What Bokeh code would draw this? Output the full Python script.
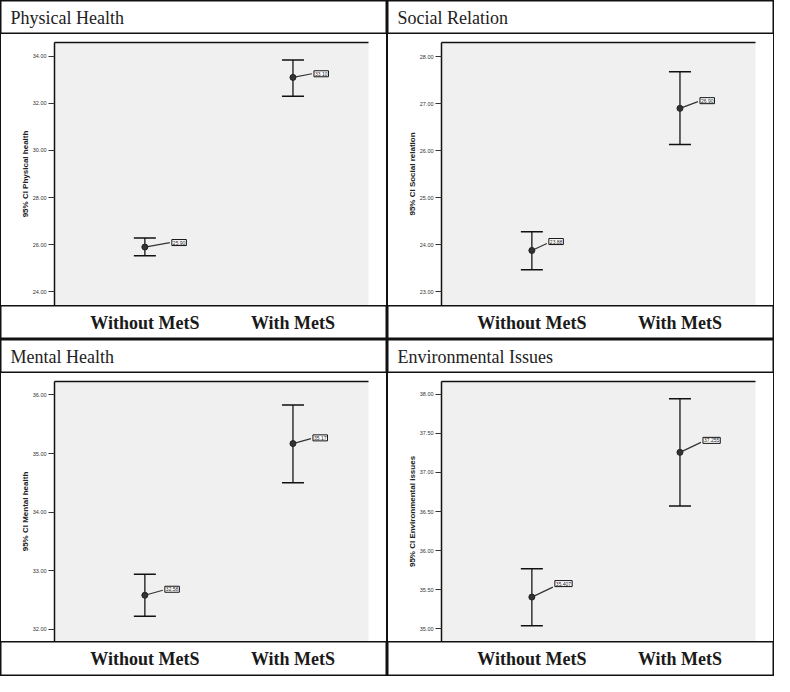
from bokeh.plotting import figure
from bokeh.models import (Range1d, LinearAxis, FixedTicker, NumeralTickFormatter,
                          Whisker, TeeHead, ColumnDataSource, Label, Div)
from bokeh.layouts import row, column
from bokeh.embed import file_html
from bokeh.resources import INLINE
from bokeh.core.properties import value

# ---------------- data ----------------
groups = ["Without MetS", "With MetS"]
group_x = [0, 1]

titles = ["Physical Health", "Social Relation", "Mental Health", "Environmental Issues"]
y_labels = ["95% CI Physical health", "95% CI Social relation",
            "95% CI Mental health", "95% CI Environmental issues"]

physical_mean = [25.90, 33.10]
physical_lower = [25.53, 32.30]
physical_upper = [26.28, 33.84]

social_mean = [23.88, 26.90]
social_lower = [23.47, 26.13]
social_upper = [24.28, 27.68]

mental_mean = [32.58, 35.17]
mental_lower = [32.22, 34.50]
mental_upper = [32.94, 35.83]

environ_mean = [35.407, 37.255]
environ_lower = [35.04, 36.57]
environ_upper = [35.77, 37.94]

physical_ticks = [24, 26, 28, 30, 32, 34]
social_ticks = [23, 24, 25, 26, 27, 28]
mental_ticks = [32, 33, 34, 35, 36]
environ_ticks = [35.0, 35.5, 36.0, 36.5, 37.0, 37.5, 38.0]

label_decimals = [2, 2, 2, 3]

# ---------------- layout / style ----------------
CELL_W = 387
PLOT_W = 385
TITLE_H = 34
XLAB_H = [34, 35]
PLOT_H = [271, 268]
B_L, B_R, B_T = 53, 18, 8
X_RANGE = (-0.61, 1.51)
Y_RANGES = [(23.42, 34.58), (22.71, 28.30), (31.79, 36.23), (34.84, 38.16)]
# (dx px, connector dy px, box centre dy px) per group
LABEL_OFFSETS = [
    [(25, 4.5, 4.5), (19, 3.6, 3.6)],
    [(15, 7.0, 8.9), (18, 6.7, 7.7)],
    [(18, 5.0, 6.0), (18, 5.0, 5.7)],
    [(21, 10.0, 13.5), (21, 10.0, 12.0)],
]
LINE = "#111111"
SERIF = "Liberation Serif"
SANS = "Liberation Sans"

panels = [
    (physical_mean, physical_lower, physical_upper, physical_ticks),
    (social_mean, social_lower, social_upper, social_ticks),
    (mental_mean, mental_lower, mental_upper, mental_ticks),
    (environ_mean, environ_lower, environ_upper, environ_ticks),
]


def strip(w, h, xr=(0, 1)):
    s = figure(width=w, height=h, x_range=Range1d(*xr), y_range=Range1d(0, 1),
               x_axis_location=None, y_axis_location=None, toolbar_location=None,
               output_backend="svg", title=None, min_border=0,
               outline_line_color=LINE, outline_line_width=2,
               background_fill_color="white", border_fill_color="white")
    s.grid.visible = False
    return s


def title_strip(text):
    s = strip(CELL_W, TITLE_H)
    s.add_layout(Label(x=10, y=TITLE_H / 2, x_units="screen", y_units="screen",
                       text=text, text_font=SERIF, text_font_size="18px",
                       text_color="#222222", text_baseline="middle"))
    return s


def xlab_strip(h):
    frame_w = PLOT_W - B_L - B_R
    lc = 1 + B_L
    rc = lc + frame_w
    k = (X_RANGE[1] - X_RANGE[0]) / frame_w
    xr = (X_RANGE[0] - lc * k, X_RANGE[1] + (CELL_W - rc) * k)
    s = strip(CELL_W, h, xr)
    src = ColumnDataSource(dict(x=group_x, y=[0.5, 0.5], t=groups))
    s.text(x="x", y="y", text="t", source=src, text_font=value(SERIF),
           text_font_style="bold", text_font_size=value("18px"),
           text_color="#1a1a1a", text_align="center", text_baseline="middle")
    return s


def plot_panel(i, ph):
    mean, lower, upper, ticks = panels[i]
    y0, y1 = Y_RANGES[i]
    p = figure(width=PLOT_W, height=ph, x_range=Range1d(*X_RANGE), y_range=Range1d(y0, y1),
               x_axis_location=None, y_axis_location="left", toolbar_location=None,
               output_backend="svg", title=None,
               min_border_left=B_L, min_border_right=B_R, min_border_top=B_T,
               min_border_bottom=0, background_fill_color="#f0f0f0",
               border_fill_color="white", outline_line_color=None)
    p.grid.visible = False

    ya = p.yaxis[0]
    ya.ticker = FixedTicker(ticks=ticks)
    ya.formatter = NumeralTickFormatter(format="0.00")
    ya.axis_label = y_labels[i]
    ya.axis_label_text_font = SANS
    ya.axis_label_text_font_style = "bold"
    ya.axis_label_text_font_size = "8px"
    ya.axis_label_text_color = "#222222"
    ya.axis_label_standoff = 0
    ya.major_label_text_font = SANS
    ya.major_label_text_font_size = "5.5px"
    ya.major_label_text_color = "#333333"
    ya.major_label_standoff = 2
    ya.major_tick_out = 6
    ya.major_tick_in = 0
    ya.major_tick_line_color = "#333333"
    ya.minor_tick_line_color = None
    ya.axis_line_color = LINE
    ya.axis_line_width = 1.5

    top = LinearAxis(ticker=FixedTicker(ticks=[]), axis_line_color=LINE, axis_line_width=1.5,
                     major_tick_line_color=None, minor_tick_line_color=None,
                     major_tick_out=0, major_tick_in=0, major_label_standoff=0,
                     major_label_text_font_size="0px")
    p.add_layout(top, "above")

    frame_w = PLOT_W - B_L - B_R
    frame_h = ph - B_T
    kx = (X_RANGE[1] - X_RANGE[0]) / frame_w
    ky = (y1 - y0) / frame_h

    src = ColumnDataSource(dict(x=group_x, mean=mean, lower=lower, upper=upper))
    p.add_layout(Whisker(source=src, base="x", lower="lower", upper="upper",
                         dimension="height", line_color="#333333", line_width=1.5,
                         lower_head=TeeHead(size=22, line_color=LINE, line_width=1.5),
                         upper_head=TeeHead(size=22, line_color=LINE, line_width=1.5)))

    offs = LABEL_OFFSETS[i]
    cx = [x + o[0] * kx for x, o in zip(group_x, offs)]
    cy = [m + o[1] * ky for m, o in zip(mean, offs)]
    by = [m + o[2] * ky for m, o in zip(mean, offs)]
    txt = [f"{m:.{label_decimals[i]}f}" for m in mean]
    p.segment(x0=group_x, y0=mean, x1=cx, y1=cy, line_color="#333333", line_width=1.2)
    p.scatter(x=group_x, y=mean, size=6, marker="circle", fill_color="#333333",
              line_color="#222222")
    p.text(x=cx, y=by, text=txt, text_font=value(SANS), text_font_size=value("5px"),
           text_color="#222222", text_align="left", text_baseline="middle",
           x_offset=2, background_fill_color="white", border_line_color=LINE,
           border_line_width=1, padding=1)
    return p


def vline(w, h):
    return Div(width=w, height=h, margin=0, styles={"background-color": LINE})


rows = []
for r in range(2):
    a, b = 2 * r, 2 * r + 1
    ph = PLOT_H[r]
    rows.append(row(title_strip(titles[a]), title_strip(titles[b])))
    rows.append(row(vline(1, ph), plot_panel(a, ph), vline(2, ph),
                    plot_panel(b, ph), vline(1, ph)))
    rows.append(row(xlab_strip(XLAB_H[r]), xlab_strip(XLAB_H[r])))

layout = column(*rows)

open("out.html", "w").write(file_html(layout, INLINE))
